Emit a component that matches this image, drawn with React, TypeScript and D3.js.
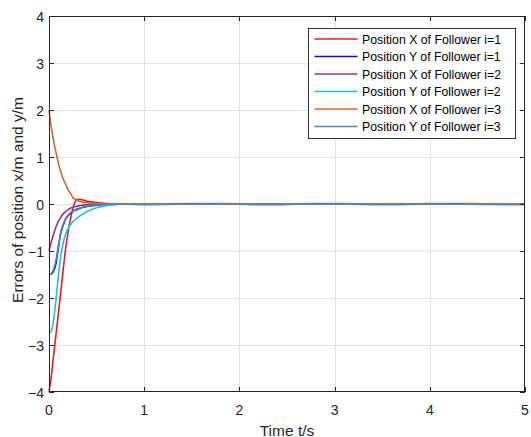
import React, { useEffect, useRef } from 'react';
import * as d3 from 'd3';

// sample times (s)
const time = [0, 0.025, 0.05, 0.075, 0.1, 0.125, 0.15, 0.175, 0.2, 0.225, 0.25, 0.275, 0.3, 0.35, 0.4, 0.5, 0.6, 0.7,
  0.8, 1.0, 1.2, 1.4, 1.6, 1.8, 2.0, 2.2, 2.4, 2.6, 2.8, 3.0, 3.2, 3.4, 3.6, 3.8, 4.0, 4.2, 4.4, 4.6, 4.8, 5.0];

const zeroTail = [0, 0, 0, 0, 0, 0, 0, 0, 0, 0, 0, 0, 0, 0, 0, 0, 0, 0, 0, 0, 0, 0];

const xFollower1 = [-4, -3.65, -3.2, -2.75, -2.3, -1.85, -1.38, -0.95, -0.6, -0.32, -0.1, 0.05, 0.1, 0.09, 0.06, 0.03, 0.012, 0.005, ...zeroTail];
const yFollower1 = [-1.5, -1.49, -1.42, -1.25, -0.9, -0.6, -0.45, -0.32, -0.25, -0.2, -0.16, -0.13, -0.11, -0.075, -0.05, -0.025, -0.01, -0.004, ...zeroTail];
const xFollower2 = [-1, -0.8, -0.63, -0.48, -0.36, -0.28, -0.21, -0.16, -0.12, -0.09, -0.07, -0.055, -0.045, -0.028, -0.018, -0.007, -0.003, -0.001, ...zeroTail];
const yFollower2 = [-2.75, -2.7, -2.45, -2.0, -1.5, -1.08, -0.82, -0.64, -0.52, -0.44, -0.38, -0.33, -0.29, -0.22, -0.16, -0.08, -0.035, -0.015, ...zeroTail];
const xFollower3 = [2, 1.62, 1.32, 1.08, 0.86, 0.68, 0.53, 0.42, 0.3, 0.23, 0.14, 0.1, 0.075, 0.045, 0.028, 0.012, 0.008, 0.006,
  0.005, 0.0, 0.002, 0.008, 0.012, 0.01, 0.005, 0.0, 0.001, 0.006, 0.011, 0.012, 0.006, 0.001, 0, 0.004, 0.01, 0.012, 0.008, 0.002, 0, 0.002];
const yFollower3 = [-1.5, -1.48, -1.38, -1.18, -0.88, -0.6, -0.43, -0.31, -0.24, -0.19, -0.15, -0.12, -0.1, -0.07, -0.045, -0.02, -0.01, -0.006,
  -0.005, -0.015, -0.012, -0.004, 0.002, 0.0, -0.006, -0.014, -0.013, -0.005, 0.002, 0.001, -0.006, -0.013, -0.015, -0.008, 0, 0.002, -0.004, -0.011, -0.015, -0.012];

const seriesNames = [
  'Position X of Follower i=1',
  'Position Y of Follower i=1',
  'Position X of Follower i=2',
  'Position Y of Follower i=2',
  'Position X of Follower i=3',
  'Position Y of Follower i=3',
];
const seriesValues = [xFollower1, yFollower1, xFollower2, yFollower2, xFollower3, yFollower3];
const seriesColors = ['#f5191c', '#0a0af5', '#a8336b', '#1cc0f7', '#d9662a', '#4a86c0'];

const xTicks = [0, 1, 2, 3, 4, 5];
const yTicks = [-4, -3, -2, -1, 0, 1, 2, 3, 4];

export default function App() {
  const svgRef = useRef<SVGSVGElement>(null);

  useEffect(() => {
    const W = 531, H = 437;
    const margin = { top: 16, right: 6, bottom: 45, left: 49 };
    const font = '"Liberation Sans", Arial, sans-serif';
    const axisColor = '#262626';

    const svg = d3.select(svgRef.current);
    svg.selectAll('*').remove();
    svg.attr('width', W).attr('height', H);

    const x = d3.scaleLinear().domain([0, 5]).range([margin.left, W - margin.right]);
    const y = d3.scaleLinear().domain([-4, 4]).range([H - margin.bottom, margin.top]);
    const [x0, x1] = x.range();
    const [y0, y1] = y.range();

    svg.append('rect').attr('x', 0).attr('y', 0).attr('width', W).attr('height', H).attr('fill', '#fff');

    // grid
    const grid = svg.append('g').attr('stroke', '#e3e3e3').attr('stroke-width', 1);
    xTicks.slice(1, -1).forEach(t => {
      grid.append('line').attr('x1', Math.round(x(t)) + 0.5).attr('x2', Math.round(x(t)) + 0.5).attr('y1', y1).attr('y2', y0);
    });
    yTicks.slice(1, -1).forEach(t => {
      grid.append('line').attr('y1', Math.round(y(t)) + 0.5).attr('y2', Math.round(y(t)) + 0.5).attr('x1', x0).attr('x2', x1);
    });

    // lines
    const line = d3.line<number>()
      .x((_, i) => x(time[i]))
      .y(d => y(d))
      .curve(d3.curveMonotoneX);

    seriesValues.forEach((vals, i) => {
      svg.append('path')
        .attr('d', line(vals))
        .attr('fill', 'none')
        .attr('stroke', seriesColors[i])
        .attr('stroke-width', 1.6);
    });

    // box + ticks
    const box = svg.append('g').attr('stroke', axisColor).attr('stroke-width', 1).attr('fill', 'none');
    box.append('rect').attr('x', x0 + 0.5).attr('y', y1 + 0.5).attr('width', x1 - x0 - 1).attr('height', y0 - y1 - 1);
    const tl = 5;
    xTicks.forEach(t => {
      const px = Math.round(x(t)) + 0.5;
      box.append('line').attr('x1', px).attr('x2', px).attr('y1', y0).attr('y2', y0 - tl);
      box.append('line').attr('x1', px).attr('x2', px).attr('y1', y1).attr('y2', y1 + tl);
    });
    yTicks.forEach(t => {
      const py = Math.round(y(t)) + 0.5;
      box.append('line').attr('y1', py).attr('y2', py).attr('x1', x0).attr('x2', x0 + tl);
      box.append('line').attr('y1', py).attr('y2', py).attr('x1', x1).attr('x2', x1 - tl);
    });

    // tick labels
    const labels = svg.append('g').attr('font-family', font).attr('font-size', 14).attr('fill', axisColor);
    xTicks.forEach(t => {
      labels.append('text').attr('x', x(t)).attr('y', y0 + 22.5).attr('text-anchor', 'middle').text(d3.format('d')(t));
    });
    yTicks.forEach(t => {
      labels.append('text').attr('x', x0 - 5).attr('y', y(t) + 6).attr('text-anchor', 'end').text(d3.format('d')(t));
    });

    // axis titles
    svg.append('text')
      .attr('x', (x0 + x1) / 2).attr('y', H - 1.5)
      .attr('text-anchor', 'middle').attr('font-family', font).attr('font-size', 15.5).attr('fill', axisColor)
      .text('Time t/s');
    svg.append('text')
      .attr('transform', `translate(23, ${(y0 + y1) / 2 - 4}) rotate(-90)`)
      .attr('text-anchor', 'middle').attr('font-family', font).attr('font-size', 15.5).attr('fill', axisColor)
      .text('Errors of position x/m and y/m');

    // legend
    const lg = svg.append('g').attr('transform', 'translate(308.5, 28.5)');
    lg.append('rect').attr('width', 207).attr('height', 110).attr('fill', '#fff').attr('stroke', '#333').attr('stroke-width', 1);
    seriesNames.forEach((name, i) => {
      const ry = 10.5 + i * 17.5;
      lg.append('line').attr('x1', 6).attr('x2', 49).attr('y1', ry).attr('y2', ry)
        .attr('stroke', seriesColors[i]).attr('stroke-width', 1.6);
      lg.append('text').attr('x', 53.5).attr('y', ry + 4.5)
        .attr('font-family', font).attr('font-size', 12.3).attr('fill', '#000')
        .text(name);
    });
  }, []);

  return (
    <div style={{ position: 'absolute', left: 0, top: 0 }}>
      <svg ref={svgRef} style={{ display: 'block' }} />
    </div>
  );
}
